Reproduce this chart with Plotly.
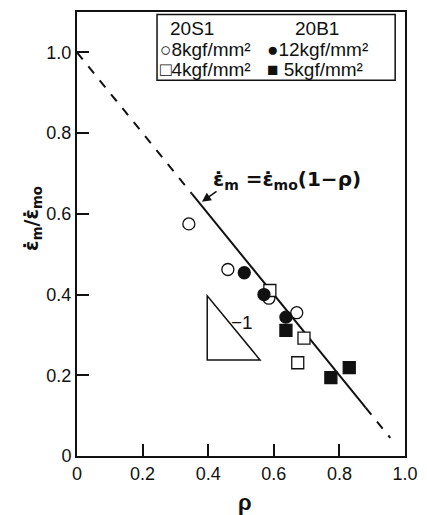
import plotly.graph_objects as go

# data
open_circle_x = [0.341, 0.460, 0.585, 0.670]
open_circle_y = [0.575, 0.462, 0.391, 0.355]
filled_circle_x = [0.510, 0.570, 0.637]
filled_circle_y = [0.454, 0.400, 0.344]
open_square_x = [0.588, 0.692, 0.673]
open_square_y = [0.410, 0.292, 0.231]
filled_square_x = [0.637, 0.774, 0.830]
filled_square_y = [0.311, 0.194, 0.219]

# theory line eps_m = eps_mo (1 - rho), drawn in pieces
dash1_x = [0.0, 0.35]
dash1_y = [1.0, 0.65]
solid_x = [0.35, 0.88]
solid_y = [0.65, 0.12]
dash2_x = [0.88, 0.955]
dash2_y = [0.12, 0.045]

x_tickvals = [0, 0.2, 0.4, 0.6, 0.8, 1.0]
x_ticktext = ["0", "0.2", "0.4", "0.6", "0.8", "1.0"]
y_tickvals = [0, 0.2, 0.4, 0.6, 0.8, 1.0]
y_ticktext = ["0", "0.2", "0.4", "0.6", "0.8", "1.0"]

FONT = "Liberation Sans, Arial, sans-serif"
EQFONT = "DejaVu Sans, sans-serif"
BLACK = "#111111"

fig = go.Figure()
fig.add_trace(go.Scatter(x=dash1_x, y=dash1_y, mode="lines",
                         line=dict(color=BLACK, width=2, dash="dash")))
fig.add_trace(go.Scatter(x=solid_x, y=solid_y, mode="lines",
                         line=dict(color=BLACK, width=2)))
fig.add_trace(go.Scatter(x=dash2_x, y=dash2_y, mode="lines",
                         line=dict(color=BLACK, width=2, dash="dash")))

mk = dict(size=12, line=dict(color=BLACK, width=1.3))
fig.add_trace(go.Scatter(x=open_circle_x, y=open_circle_y, mode="markers",
                         marker=dict(symbol="circle", color="white", **mk)))
fig.add_trace(go.Scatter(x=open_square_x, y=open_square_y, mode="markers",
                         marker=dict(symbol="square", color="white", **mk)))
fig.add_trace(go.Scatter(x=filled_circle_x, y=filled_circle_y, mode="markers",
                         marker=dict(symbol="circle", color=BLACK, **mk)))
fig.add_trace(go.Scatter(x=filled_square_x, y=filled_square_y, mode="markers",
                         marker=dict(symbol="square", color=BLACK, **mk)))

# slope triangle
fig.add_shape(type="path", path="M 0.397 0.397 L 0.397 0.238 L 0.558 0.238 Z",
              xref="x", yref="y", line=dict(color=BLACK, width=1.5))
fig.add_annotation(x=0.503, y=0.33, text="−1", showarrow=False, xref="x", yref="y",
                   font=dict(family=FONT, size=19, color=BLACK))

# equation label with arrow
fig.add_annotation(x=0.381, y=0.630, ax=0.43, ay=0.658, axref="x", ayref="y",
                   xref="x", yref="y", text="", showarrow=True,
                   arrowhead=2, arrowsize=1.2, arrowwidth=1.5, arrowcolor=BLACK)
fig.add_annotation(x=0.41, y=0.683, xanchor="left", yanchor="middle", showarrow=False,
                   xref="x", yref="y",
                   text="<b>ε̇<sub>m</sub> =ε̇<sub>mo</sub>(1−ρ)</b>",
                   font=dict(family=EQFONT, size=20, color=BLACK))

# legend box
fig.add_shape(type="rect", x0=0.244, x1=0.970, y0=0.931, y1=1.094,
              xref="x", yref="y", line=dict(color=BLACK, width=1.5), fillcolor="white")
leg_font = dict(family=FONT, size=19, color=BLACK)
legend_rows = [
    (0.277, 1.059, "20S1"), (0.659, 1.059, "20B1"),
    (0.246, 1.008, "○8kgf/mm²"), (0.574, 1.008, "●12kgf/mm²"),
    (0.246, 0.957, "□4kgf/mm²"), (0.574, 0.957, "■ 5kgf/mm²"),
]
for lx, ly, lt in legend_rows:
    fig.add_annotation(x=lx, y=ly, text=lt, showarrow=False, xref="x", yref="y",
                       xanchor="left", yanchor="middle", font=leg_font)

# axis titles
fig.add_annotation(xref="paper", yref="paper", x=-0.134, y=0.534, textangle=-90,
                   xanchor="center", yanchor="middle",
                   text="<b>ε̇<sub>m</sub>/ε̇<sub>mo</sub></b>", showarrow=False,
                   font=dict(family=EQFONT, size=19, color=BLACK))
fig.add_annotation(xref="paper", yref="paper", x=0.512, y=-0.105,
                   xanchor="center", yanchor="middle", text="<b>ρ</b>",
                   showarrow=False, font=dict(family=FONT, size=22, color=BLACK))

axis_common = dict(showline=True, linecolor=BLACK, linewidth=2, mirror=True,
                   ticks="inside", ticklen=12, tickwidth=1.5, tickcolor=BLACK,
                   showgrid=False, zeroline=False,
                   tickfont=dict(family=FONT, size=18, color=BLACK))
fig.update_xaxes(range=[0, 1.0], tickvals=x_tickvals, ticktext=x_ticktext, **axis_common)
fig.update_yaxes(range=[0, 1.1], tickvals=y_tickvals, ticktext=y_ticktext, **axis_common)

# page body adds an 8px offset; compensate in size/margins
fig.update_layout(width=419, height=507, showlegend=False,
                  margin=dict(l=69, r=22, t=2, b=59),
                  plot_bgcolor="white", paper_bgcolor="white")

fig.write_html("out.html")
